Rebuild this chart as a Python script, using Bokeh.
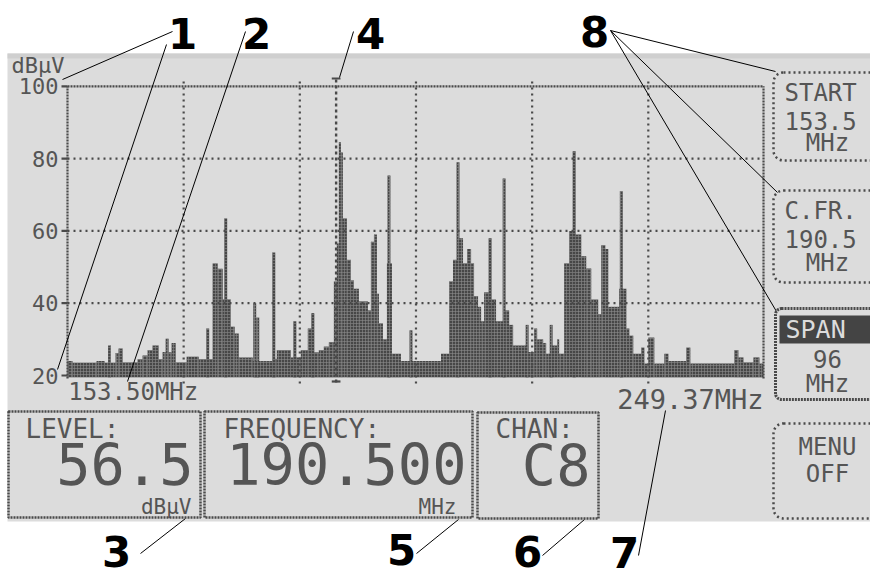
from bokeh.plotting import figure
from bokeh.models import Range1d, BoxAnnotation
from bokeh.embed import file_html
from bokeh.resources import INLINE
from bokeh.core.properties import value

# ---------------- data ----------------
start_mhz = 153.50
stop_mhz = 249.37
center_mhz = 190.5
span_mhz = 96
level_dbuv = 56.5
channel = "C8"

y_ticks_dbuv = [20, 40, 60, 80, 100]
y_tick_labels = ["20", "40", "60", "80", "100"]
grid_dbuv = [40, 60, 80]
x_grid_mhz = [169.5, 185.5, 201.5, 217.5, 233.5]

band_edges_mhz = [
    153.50, 154.19, 157.50, 158.60, 160.12, 160.53, 161.09, 163.16, 163.84, 164.53,
    165.22, 166.05, 166.60, 167.02, 167.43, 167.84, 168.40, 169.91, 171.57, 173.50,
    174.19, 174.88, 175.98, 176.53, 177.09, 179.02, 181.78, 182.33, 184.26, 185.64,
    186.60, 187.16, 187.43, 188.12, 188.81, 189.50, 190.19, 190.60, 190.88, 191.16,
    191.43, 191.98, 192.53, 192.95, 193.64, 194.88, 195.29, 195.71, 196.12, 196.40,
    196.95, 197.50, 198.19, 199.43, 204.95, 206.05, 206.60, 207.16, 207.98, 208.53,
    209.09, 209.50, 210.05, 210.47, 210.88, 211.84, 212.53, 213.78, 214.33, 214.88,
    216.95, 217.78, 218.19, 219.02, 219.43, 219.98, 220.95, 221.22, 221.91, 222.60,
    223.16, 224.26, 224.95, 225.64, 226.60, 227.02, 227.57, 227.98, 229.50, 230.47,
    230.88, 231.43, 232.53, 232.95, 233.50, 234.33, 235.71, 236.26, 238.74, 239.29,
    245.36, 245.91, 246.60, 247.98, 248.81, 249.37]
band_level_dbuv = [
    24.0, 23.5, 24.0, 23.5, 26.2, 27.5, 23.6, 24.5, 25.5, 27.0,
    28.3, 24.5, 26.5, 30.2, 26.4, 29.0, 23.6, 25.2, 24.5, 51.0,
    49.5, 41.0, 33.5, 31.6, 25.0, 24.0, 24.6, 27.0, 25.0, 27.0,
    33.0, 37.2, 26.4, 27.0, 28.0, 29.2, 46.0, 56.5, 84.5, 81.7,
    63.4, 52.0, 46.3, 44.0, 40.5, 38.0, 57.0, 59.0, 42.6, 34.4,
    30.0, 51.0, 26.0, 24.0, 26.0, 46.0, 52.0, 58.0, 51.0, 55.0,
    51.0, 42.0, 39.0, 35.0, 43.0, 41.0, 35.0, 38.0, 34.0, 28.3,
    26.5, 33.0, 30.0, 29.0, 26.0, 28.3, 30.0, 26.0, 51.0, 60.0,
    59.0, 53.0, 49.6, 41.0, 37.0, 56.0, 55.0, 39.0, 44.0, 33.0,
    31.0, 26.0, 27.7, 23.3, 30.5, 23.3, 26.0, 24.0, 27.7, 23.3,
    27.0, 25.0, 23.6, 25.0, 23.3]
spike_mhz = [159.29, 172.81, 175.29, 179.29, 179.71, 181.91, 184.81, 187.29, 197.78,
             200.81, 207.29, 211.71, 213.64, 216.81, 220.12, 223.29, 229.78]
spike_level_dbuv = [28.3, 33.0, 63.4, 40.0, 36.0, 54.0, 35.0, 37.2, 75.3,
                    32.5, 79.0, 58.0, 74.5, 34.0, 34.0, 82.0, 71.0]

# ---------------- geometry of the photo ----------------
PX_PER_MHZ = 7.26
PX_PER_DB = 3.615
REF_X0 = 67.0     # photo px of start frequency
REF_Y20 = 375.0   # photo px of 20 dBuV
W, H, OFF = 870, 579, 0


def X(px):
    return start_mhz + (px - REF_X0) / PX_PER_MHZ


def Y(py):
    return 20 + (REF_Y20 - py) / PX_PER_DB


INK = "#4a4a4a"
TXT = "#555555"
LCD_BG = "#dcdcdc"
LCD_FONT = "DejaVu Sans Mono"
NUM_FONT = "DejaVu Sans"

p = figure(width=W, height=H, x_range=Range1d(X(OFF), X(OFF + W)),
           y_range=Range1d(Y(OFF + H), Y(OFF)), output_backend="svg",
           toolbar_location=None, x_axis_type=None, y_axis_type=None,
           min_border=0, outline_line_color=None,
           background_fill_color="white", border_fill_color="white")

# LCD panel
p.quad(left=[X(7)], right=[X(900)], top=[Y(53)], bottom=[Y(521)],
       fill_color=LCD_BG, line_color=None)
p.quad(left=[X(7)], right=[X(900)], top=[Y(53)], bottom=[Y(58)],
       fill_color="#cfcfcf", line_color=None)

# spectrum
p.quad(left=band_edges_mhz[:-1], right=band_edges_mhz[1:], bottom=19.5,
       top=band_level_dbuv, fill_color="#474747", line_color=None,
       hatch_pattern="+", hatch_color="#8c8c8c", hatch_scale=3, hatch_weight=0.6)
p.quad(left=[f - 0.2 for f in spike_mhz], right=[f + 0.2 for f in spike_mhz],
       bottom=19.5, top=spike_level_dbuv, fill_color="#474747", line_color=None,
       hatch_pattern="+", hatch_color="#8c8c8c", hatch_scale=3, hatch_weight=0.6)

# graticule
p.segment(x0=[start_mhz] * 3, y0=grid_dbuv, x1=[stop_mhz] * 3, y1=grid_dbuv,
          line_color=INK, line_width=2.2, line_dash="2 4")
p.segment(x0=x_grid_mhz, y0=[Y(383)] * 5, x1=x_grid_mhz, y1=[Y(80)] * 5,
          line_color=INK, line_width=2.2, line_dash="2 4")
p.segment(x0=[start_mhz], y0=[100], x1=[stop_mhz], y1=[100],
          line_color=INK, line_width=2.2, line_dash="2 1")
p.segment(x0=[start_mhz, stop_mhz], y0=[Y(378), Y(378)], x1=[start_mhz, stop_mhz],
          y1=[100, 100], line_color=INK, line_width=2.2, line_dash="2 1")
p.segment(x0=[X(61)] * 5, y0=y_ticks_dbuv, x1=[start_mhz] * 5, y1=y_ticks_dbuv,
          line_color=INK, line_width=2.2)

# marker
p.segment(x0=[center_mhz], y0=[Y(382)], x1=[center_mhz], y1=[Y(78)],
          line_color=INK, line_width=2.4, line_dash="3 3")
p.segment(x0=[center_mhz - 0.6, center_mhz - 0.6], y0=[Y(78), Y(381)],
          x1=[center_mhz + 0.6, center_mhz + 0.6], y1=[Y(78), Y(381)],
          line_color=INK, line_width=2.2)


def lcd_text(xs, ys, texts, size, align="left", color=TXT):
    p.text(x=xs, y=ys, text=texts, text_font=value(LCD_FONT),
           text_font_size=f"{size}px", text_color=color, text_align=align,
           text_baseline="middle")


# axis texts
lcd_text([X(58)] * 5, y_ticks_dbuv, y_tick_labels, 22, align="right")
lcd_text([X(11)], [Y(65)], ["dBµV"], 22)
lcd_text([start_mhz + 0.1], [Y(391)], [f"{start_mhz:.2f}MHz"], 24)
lcd_text([stop_mhz], [Y(399)], [f"{stop_mhz:.2f}MHz"], 27, align="right")

# bottom info boxes
for l, r, t, b in [(8, 200, 411, 517), (204, 472, 411, 517), (477, 598, 412, 518)]:
    p.add_layout(BoxAnnotation(left=X(l), right=X(r), top=Y(t), bottom=Y(b),
                               fill_color=None, fill_alpha=0, line_color=INK,
                               line_alpha=1, line_width=2.5, line_dash="2 1"))
lcd_text([X(25), X(223), X(495)], [Y(428)] * 3, ["LEVEL:", "FREQUENCY:", "CHAN:"], 26)
lcd_text([X(193), X(466), X(590)], [Y(463), Y(463), Y(465)],
         [f"{level_dbuv:.1f}", f"{center_mhz:.3f}", channel], 57, align="right")
lcd_text([X(191), X(456)], [Y(506)] * 2, ["dBµV", "MHz"], 21, align="right")

# right soft-key boxes
for t, b in [(72, 160), (190, 282), (423, 518)]:
    p.add_layout(BoxAnnotation(left=X(773), right=X(905), top=Y(t), bottom=Y(b),
                               fill_color=None, fill_alpha=0, line_color=INK,
                               line_alpha=1, line_width=2.5, line_dash="2 3",
                               border_radius=10))
p.add_layout(BoxAnnotation(left=X(775), right=X(905), top=Y(308), bottom=Y(399),
                           fill_color=None, fill_alpha=0, line_color=INK,
                           line_alpha=1, line_width=3, line_dash="2 1",
                           border_radius=6))
p.quad(left=[X(779)], right=[X(900)], top=[Y(315)], bottom=[Y(343)],
       fill_color="#444444", line_color=None)
lcd_text([X(784)] * 4, [Y(92), Y(120), Y(210), Y(238)],
         ["START", f"{start_mhz:.1f}", "C.FR.", f"{center_mhz:.1f}"], 24)
lcd_text([X(785)], [Y(329)], ["SPAN"], 25, color=LCD_BG)
lcd_text([X(827)] * 6, [Y(142), Y(262), Y(358), Y(383), Y(446), Y(473)],
         ["MHz", "MHz", f"{span_mhz}", "MHz", "MENU", "OFF"], 24, align="center")

# call-out numbers and leader lines
lead = [((172, 31), (62, 79)), ((166, 44), (57, 369)), ((245, 31), (127, 381)),
        ((353, 31), (339, 77)), ((610, 30), (775, 71)), ((610, 30), (777, 192)),
        ((610, 30), (776, 311)), ((140, 553), (185, 518)), ((416, 553), (458, 519)),
        ((542, 555), (584, 519)), ((638, 555), (665, 410))]
p.segment(x0=[X(a[0]) for a, _ in lead], y0=[Y(a[1]) for a, _ in lead],
          x1=[X(b[0]) for _, b in lead], y1=[Y(b[1]) for _, b in lead],
          line_color="black", line_width=1)
callouts = ["1", "2", "4", "8", "3", "5", "6", "7"]
callout_px = [(182, 33), (256, 33), (370, 33), (594, 31),
              (116, 551), (401, 549), (527, 551), (624, 552)]
p.text(x=[X(c[0]) for c in callout_px], y=[Y(c[1]) for c in callout_px],
       text=callouts, text_font=value(NUM_FONT), text_font_style="bold",
       text_font_size="42px", text_color="black", text_align="center",
       text_baseline="middle")

open("out.html", "w").write(file_html(p, INLINE))
